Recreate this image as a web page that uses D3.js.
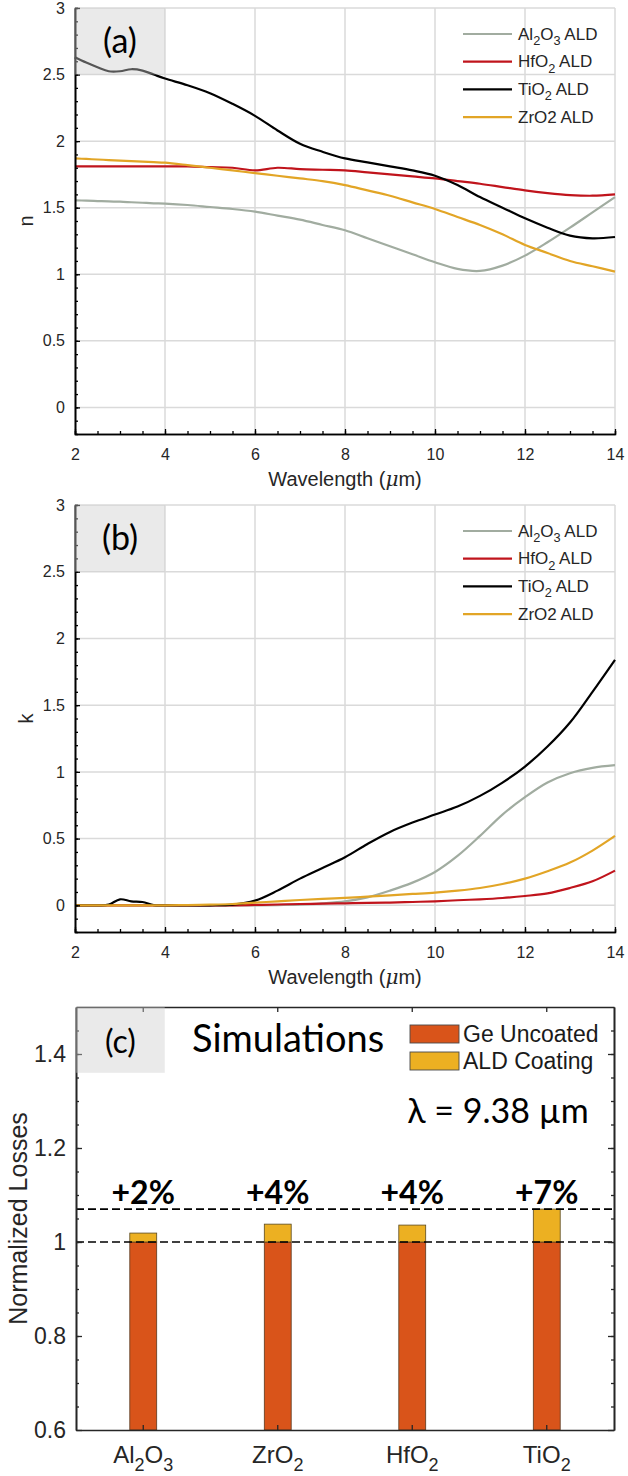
<!DOCTYPE html>
<html>
<head>
<meta charset="utf-8">
<script src="https://cdn.jsdelivr.net/npm/d3@7"></script>
<style>
  body { margin: 0; background: #fff; }
  svg { display: block; }
</style>
</head>
<body>
<div id="grafico"></div>
<script>
// wavelength grid (um)
const wavelength = [2, 2.25, 2.5, 2.75, 3, 3.25, 3.5, 3.75, 4, 4.5, 5, 5.5, 6, 6.5, 7, 7.5, 8, 8.5, 9, 9.5, 10, 10.5, 11, 11.5, 12, 12.5, 13, 13.5, 14];

// refractive index n
const nAl2O3 = [1.555, 1.553, 1.55, 1.547, 1.545, 1.541, 1.537, 1.533, 1.53, 1.52, 1.505, 1.49, 1.47, 1.44, 1.41, 1.37, 1.33, 1.27, 1.21, 1.15, 1.09, 1.04, 1.025, 1.065, 1.14, 1.24, 1.35, 1.465, 1.58];
const nHfO2 = [1.81, 1.81, 1.81, 1.81, 1.81, 1.81, 1.81, 1.81, 1.81, 1.81, 1.805, 1.8, 1.78, 1.8, 1.79, 1.785, 1.78, 1.765, 1.75, 1.735, 1.72, 1.7, 1.68, 1.655, 1.63, 1.61, 1.595, 1.59, 1.6];
const nTiO2 = [2.63, 2.59, 2.555, 2.525, 2.525, 2.54, 2.53, 2.5, 2.47, 2.42, 2.36, 2.28, 2.19, 2.08, 1.98, 1.92, 1.87, 1.84, 1.81, 1.78, 1.74, 1.67, 1.58, 1.5, 1.42, 1.35, 1.29, 1.27, 1.28];
const nZrO2 = [1.87, 1.866, 1.862, 1.858, 1.854, 1.85, 1.846, 1.842, 1.838, 1.82, 1.8, 1.78, 1.76, 1.74, 1.72, 1.7, 1.67, 1.63, 1.59, 1.54, 1.49, 1.43, 1.37, 1.3, 1.22, 1.16, 1.1, 1.06, 1.02];

// extinction coefficient k
const kAl2O3 = [0, 0, 0, 0, 0, 0, 0, 0, 0, 0, 0, 0, 0, 0.002, 0.005, 0.015, 0.03, 0.06, 0.11, 0.17, 0.25, 0.37, 0.52, 0.68, 0.81, 0.92, 0.99, 1.03, 1.05];
const kHfO2 = [0, 0, 0, 0, 0, 0, 0, 0, 0, 0, 0, 0, 0.003, 0.006, 0.01, 0.012, 0.015, 0.018, 0.02, 0.025, 0.03, 0.038, 0.045, 0.055, 0.07, 0.09, 0.13, 0.18, 0.26];
const kTiO2 = [0, 0, 0, 0.005, 0.045, 0.03, 0.025, 0.002, 0, 0, 0, 0.005, 0.035, 0.11, 0.2, 0.28, 0.36, 0.46, 0.55, 0.62, 0.68, 0.74, 0.82, 0.92, 1.04, 1.19, 1.37, 1.6, 1.84];
const kZrO2 = [0, 0, 0, 0, 0, 0, 0, 0, 0, 0.002, 0.005, 0.01, 0.02, 0.03, 0.04, 0.048, 0.055, 0.065, 0.075, 0.085, 0.095, 0.11, 0.13, 0.16, 0.2, 0.255, 0.32, 0.41, 0.52];

const seriesNames = ["Al{2}O{3} ALD", "HfO{2} ALD", "TiO{2} ALD", "ZrO2 ALD"];
const seriesColors = ["#a1aca0", "#c0141c", "#000000", "#e2a526"];

const xTicks = [2, 4, 6, 8, 10, 12, 14];
const yTicks = [0, 0.5, 1, 1.5, 2, 2.5, 3];

// panel (c)
const materials = ["Al{2}O{3}", "ZrO{2}", "HfO{2}", "TiO{2}"];
const geUncoated = [1, 1, 1, 1];
const aldCoating = [1.019, 1.038, 1.036, 1.07];
const increase = ["+2%", "+4%", "+4%", "+7%"];
const refLines = [1, 1.07];
const lossTicks = [0.6, 0.8, 1, 1.2, 1.4];
const barNames = ["Ge Uncoated", "ALD Coating"];
const barColors = ["#d9541a", "#ecb022"];

const width = 628;
const height = 1476;
const font = "Arial, 'Liberation Sans', Helvetica, sans-serif";
const tagFont = "Lato, 'Open Sans', sans-serif";
const fmt = d3.format("");

const svg = d3
  .select("#grafico")
  .append("svg")
  .attr("width", width)
  .attr("height", height)
  .attr("font-family", font);

// text with {sub} subscripts
function rich(sel, str, size) {
  const parts = str.split(/\{([^}]*)\}/);
  let down = false;
  parts.forEach((p, i) => {
    if (p === "") return;
    const t = sel.append("tspan").text(p);
    if (i % 2) {
      t.attr("font-size", size * 0.75);
      if (!down) {
        t.attr("dy", size * 0.32);
        down = true;
      }
    } else if (down) {
      t.attr("dy", -size * 0.32);
      down = false;
    }
  });
}

function styleAxis(g, color) {
  g.attr("font-family", font);
  g.select(".domain").attr("stroke", color).attr("stroke-width", 1.6);
  g.selectAll(".tick line").attr("stroke", color).attr("stroke-width", 1.3);
  g.selectAll(".tick text").attr("fill", "#262626");
}

function spectral(top, bottom, values, yLabel, tag) {
  const x = d3.scaleLinear().domain([2, 14]).range([75, 615]);
  const y = d3.scaleLinear().domain([-0.2, 3]).range([bottom, top]);
  const g = svg.append("g");

  // grid
  g.append("g")
    .selectAll("line")
    .data(xTicks.slice(1))
    .join("line")
    .attr("x1", (d) => x(d))
    .attr("x2", (d) => x(d))
    .attr("y1", y(-0.2))
    .attr("y2", y(3))
    .attr("stroke", "#dadada")
    .attr("stroke-width", 1.5);
  g.append("g")
    .selectAll("line")
    .data(yTicks)
    .join("line")
    .attr("x1", x(2))
    .attr("x2", x(14))
    .attr("y1", (d) => y(d))
    .attr("y2", (d) => y(d))
    .attr("stroke", "#dadada")
    .attr("stroke-width", 1.5);

  // curves
  const line = d3
    .line()
    .x((d, i) => x(wavelength[i]))
    .y((d) => y(d))
    .curve(d3.curveCatmullRom.alpha(0.5));
  values.forEach((v, i) => {
    g.append("path")
      .attr("d", line(v))
      .attr("fill", "none")
      .attr("stroke", seriesColors[i])
      .attr("stroke-width", 2.2);
  });

  // Eje X
  g.append("g")
    .attr("transform", `translate(0,${bottom})`)
    .call(d3.axisBottom(x).tickValues(d3.range(2.5, 14, 0.5)).tickSize(-3).tickFormat(""))
    .call((a) => styleAxis(a, "#000"));
  g.append("g")
    .attr("transform", `translate(0,${bottom})`)
    .call(d3.axisBottom(x).tickValues(xTicks).tickSize(-5).tickSizeOuter(0).tickPadding(15).tickFormat(fmt))
    .call((a) => styleAxis(a, "#000"))
    .attr("font-size", 16);

  // Eje Y
  g.append("g")
    .attr("transform", `translate(75,0)`)
    .call(d3.axisLeft(y).tickValues(d3.range(-0.1, 3, 0.1)).tickSize(-3).tickFormat(""))
    .call((a) => styleAxis(a, "#000"));
  g.append("g")
    .attr("transform", `translate(75,0)`)
    .call(d3.axisLeft(y).tickValues(yTicks).tickSize(-5).tickSizeOuter(0).tickPadding(10).tickFormat(fmt))
    .call((a) => styleAxis(a, "#000"))
    .attr("font-size", 16);

  // axis labels
  const xl = g.append("text")
    .attr("x", (x(2) + x(14)) / 2)
    .attr("y", bottom + 52)
    .attr("text-anchor", "middle")
    .attr("fill", "#262626")
    .attr("font-size", 20);
  xl.append("tspan").text("Wavelength (");
  xl.append("tspan").text("\u03bc").attr("font-style", "italic").attr("font-family", "'DejaVu Serif', serif");
  xl.append("tspan").text("m)");

  g.append("text")
    .attr("transform", `translate(33,${(top + bottom) / 2}) rotate(-90)`)
    .attr("text-anchor", "middle")
    .attr("fill", "#262626")
    .attr("font-size", 20)
    .text(yLabel);

  // tag box over the curves
  g.append("rect")
    .attr("x", x(2))
    .attr("y", y(3))
    .attr("width", x(4) - x(2))
    .attr("height", y(2.5) - y(3))
    .attr("fill", "#cdcdcd")
    .attr("fill-opacity", 0.42);
  g.append("text")
    .attr("x", (x(2) + x(4)) / 2)
    .attr("y", (y(3) + y(2.5)) / 2 + 12)
    .attr("text-anchor", "middle")
    .attr("font-family", tagFont)
    .attr("font-size", 34)
    .attr("fill", "#000")
    .text(tag);

  // Leyenda
  const legend = g.append("g").attr("transform", `translate(${x(14) - 152},${top + 26})`);
  seriesNames.forEach((name, i) => {
    const row = legend.append("g").attr("transform", `translate(0,${i * 27.7})`);
    row.append("line")
      .attr("x1", 0)
      .attr("x2", 49)
      .attr("stroke", seriesColors[i])
      .attr("stroke-width", 2.2);
    const t = row.append("text")
      .attr("x", 55)
      .attr("y", 5.5)
      .attr("fill", "#262626")
      .attr("font-size", 17);
    rich(t, name, 17);
  });
}

spectral(8, 434, [nAl2O3, nHfO2, nTiO2, nZrO2], "n", "(a)");
spectral(505, 932, [kAl2O3, kHfO2, kTiO2, kZrO2], "k", "(b)");

// ---- panel (c) ----
const cTop = 1007, cBottom = 1430, cLeft = 76, cRight = 614;
const xb = d3.scaleBand().domain(materials).range([cLeft, cRight]);
const yb = d3.scaleLinear().domain([0.6, 1.5]).range([cBottom, cTop]);
const bw = xb.bandwidth() * 0.2;
const gc = svg.append("g");

gc.append("g")
  .selectAll("rect")
  .data(materials)
  .join("rect")
  .attr("x", (d) => xb(d) + xb.bandwidth() / 2 - bw / 2)
  .attr("y", (d, i) => yb(geUncoated[i]))
  .attr("width", bw)
  .attr("height", (d, i) => yb(0.6) - yb(geUncoated[i]))
  .attr("fill", barColors[0])
  .attr("stroke", "#5a3a20")
  .attr("stroke-width", 0.8);

gc.append("g")
  .selectAll("rect")
  .data(materials)
  .join("rect")
  .attr("x", (d) => xb(d) + xb.bandwidth() / 2 - bw / 2)
  .attr("y", (d, i) => yb(aldCoating[i]))
  .attr("width", bw)
  .attr("height", (d, i) => yb(geUncoated[i]) - yb(aldCoating[i]))
  .attr("fill", barColors[1])
  .attr("stroke", "#5a4a20")
  .attr("stroke-width", 0.8);

// dashed reference lines
gc.append("g")
  .selectAll("line")
  .data(refLines)
  .join("line")
  .attr("x1", cLeft)
  .attr("x2", cRight)
  .attr("y1", (d) => yb(d))
  .attr("y2", (d) => yb(d))
  .attr("stroke", "#000")
  .attr("stroke-width", 1.6)
  .attr("stroke-dasharray", "8,4");

// percent labels
gc.append("g")
  .selectAll("text")
  .data(materials)
  .join("text")
  .attr("x", (d) => xb(d) + xb.bandwidth() / 2)
  .attr("y", yb(refLines[1]) - 5)
  .attr("text-anchor", "middle")
  .attr("font-family", tagFont)
  .attr("font-weight", "bold")
  .attr("font-size", 32)
  .text((d, i) => increase[i]);

// axes
const ax = "#262626";
gc.append("g")
  .attr("transform", `translate(0,${cBottom})`)
  .call(d3.axisBottom(xb).tickSize(-5).tickSizeOuter(0).tickFormat(""))
  .call((a) => styleAxis(a, ax));
gc.append("g")
  .attr("transform", `translate(0,${cTop})`)
  .call(d3.axisTop(xb).tickSize(-5).tickSizeOuter(0).tickFormat(""))
  .call((a) => styleAxis(a, ax));
[[d3.axisLeft, cLeft], [d3.axisRight, cRight]].forEach(([axis, pos], j) => {
  gc.append("g")
    .attr("transform", `translate(${pos},0)`)
    .call(axis(yb).tickValues(d3.range(0.65, 1.5, 0.05)).tickSize(-3).tickSizeOuter(0).tickFormat(""))
    .call((a) => styleAxis(a, ax));
  const major = gc.append("g")
    .attr("transform", `translate(${pos},0)`)
    .call(axis(yb).tickValues(lossTicks).tickSize(-6).tickSizeOuter(0).tickPadding(10).tickFormat(fmt))
    .call((a) => styleAxis(a, ax))
    .attr("font-size", 23);
  if (j === 1) major.selectAll("text").remove();
});

// category labels
materials.forEach((m) => {
  const t = gc.append("text")
    .attr("x", xb(m) + xb.bandwidth() / 2)
    .attr("y", cBottom + 33)
    .attr("text-anchor", "middle")
    .attr("fill", "#262626")
    .attr("font-size", 24);
  rich(t, m, 24);
});

gc.append("text")
  .attr("transform", `translate(27,${(cTop + cBottom) / 2}) rotate(-90)`)
  .attr("text-anchor", "middle")
  .attr("fill", "#262626")
  .attr("font-size", 25)
  .text("Normalized Losses");

// tag box
gc.append("rect")
  .attr("x", cLeft)
  .attr("y", yb(1.5))
  .attr("width", xb(materials[0]) + xb.bandwidth() * 0.66 - cLeft)
  .attr("height", yb(1.36) - yb(1.5))
  .attr("fill", "#cdcdcd")
  .attr("fill-opacity", 0.42);
gc.append("text")
  .attr("x", (cLeft + xb(materials[0]) + xb.bandwidth() * 0.66) / 2)
  .attr("y", (yb(1.5) + yb(1.36)) / 2 + 13)
  .attr("text-anchor", "middle")
  .attr("font-family", tagFont)
  .attr("font-size", 32)
  .text("(c)");

gc.append("text")
  .attr("x", 192)
  .attr("y", 1052)
  .attr("font-family", tagFont)
  .attr("font-size", 38)
  .text("Simulations");

gc.append("text")
  .attr("x", 498)
  .attr("y", 1123)
  .attr("text-anchor", "middle")
  .attr("font-family", tagFont)
  .attr("font-size", 34)
  .text("\u03bb = 9.38 \u00b5m");

// Leyenda (c)
const lc = gc.append("g").attr("transform", `translate(410,1025)`);
barNames.forEach((name, i) => {
  const row = lc.append("g").attr("transform", `translate(0,${i * 27})`);
  row.append("rect")
    .attr("width", 49)
    .attr("height", 18)
    .attr("fill", barColors[i])
    .attr("stroke", "#4a4a4a")
    .attr("stroke-width", 0.9);
  row.append("text")
    .attr("x", 53)
    .attr("y", 17)
    .attr("fill", "#1a1a1a")
    .attr("font-size", 23)
    .text(name);
});
</script>
</body>
</html>
